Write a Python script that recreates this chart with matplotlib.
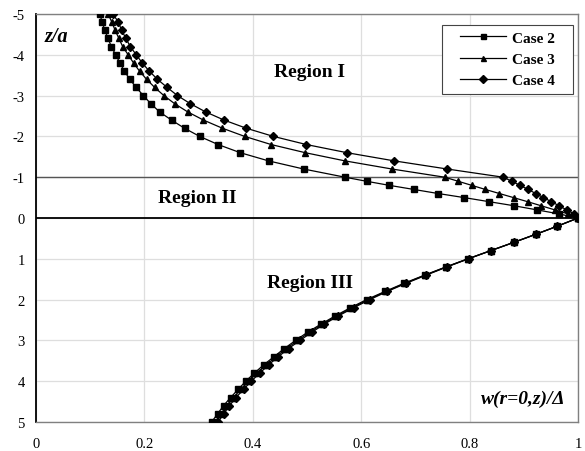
import matplotlib
matplotlib.use("Agg")
import matplotlib.pyplot as plt
from matplotlib.lines import Line2D
from matplotlib.legend_handler import HandlerLine2D

# ---- data ----
# Upper part (Region I and II), z < 0
z_up = [-5.0, -4.8, -4.6, -4.4, -4.2, -4.0, -3.8, -3.6, -3.4, -3.2, -3.0,
        -2.8, -2.6, -2.4, -2.2, -2.0, -1.8, -1.6, -1.4, -1.2, -1.0,
        -0.9, -0.8, -0.7, -0.6, -0.5, -0.4, -0.3, -0.2, -0.1, 0.0]
case2_up = [0.118, 0.122, 0.127, 0.133, 0.139, 0.147, 0.155, 0.163, 0.173, 0.185, 0.198,
            0.212, 0.228, 0.250, 0.274, 0.302, 0.336, 0.377, 0.429, 0.494, 0.570,
            0.610, 0.652, 0.697, 0.742, 0.790, 0.836, 0.882, 0.924, 0.965, 1.000]
case3_up = [0.133, 0.140, 0.146, 0.153, 0.160, 0.170, 0.180, 0.191, 0.204, 0.219, 0.236,
            0.256, 0.280, 0.309, 0.344, 0.385, 0.434, 0.497, 0.570, 0.657, 0.754,
            0.779, 0.804, 0.829, 0.855, 0.881, 0.907, 0.932, 0.957, 0.982, 1.000]
case4_up = [0.142, 0.152, 0.158, 0.166, 0.174, 0.185, 0.196, 0.209, 0.224, 0.242, 0.261,
            0.285, 0.313, 0.347, 0.388, 0.438, 0.499, 0.574, 0.661, 0.759, 0.862,
            0.878, 0.893, 0.908, 0.922, 0.936, 0.951, 0.965, 0.979, 0.993, 1.000]

# Lower part (Region III), z > 0
z_low = [0.0, 0.2, 0.4, 0.6, 0.8, 1.0, 1.2, 1.4, 1.6, 1.8, 2.0, 2.2, 2.4,
         2.6, 2.8, 3.0, 3.2, 3.4, 3.6, 3.8, 4.0, 4.2, 4.4, 4.6, 4.8, 5.0]
case2_low = [1.000, 0.962, 0.922, 0.881, 0.839, 0.797, 0.756, 0.717, 0.679, 0.644, 0.610,
             0.580, 0.552, 0.526, 0.501, 0.479, 0.458, 0.439, 0.420, 0.403, 0.387,
             0.373, 0.359, 0.346, 0.335, 0.324]
case3_low = [1.000, 0.962, 0.922, 0.881, 0.839, 0.797, 0.757, 0.718, 0.681, 0.646, 0.613,
             0.583, 0.555, 0.529, 0.505, 0.483, 0.462, 0.443, 0.425, 0.408, 0.392,
             0.378, 0.364, 0.352, 0.341, 0.330]
case4_low = [1.000, 0.962, 0.922, 0.881, 0.839, 0.798, 0.758, 0.720, 0.683, 0.648, 0.616,
             0.586, 0.558, 0.532, 0.509, 0.487, 0.466, 0.447, 0.429, 0.413, 0.397,
             0.383, 0.369, 0.357, 0.346, 0.336]

labels = ["Case 2", "Case 3", "Case 4"]
markers = ["s", "^", "D"]
msizes = [4.6, 5.0, 4.0]
x_ticks = [0, 0.2, 0.4, 0.6, 0.8, 1.0]
x_ticklabels = ["0", "0.2", "0.4", "0.6", "0.8", "1"]
y_ticks = [-5, -4, -3, -2, -1, 0, 1, 2, 3, 4, 5]
y_ticklabels = ["-5", "-4", "-3", "-2", "-1", "0", "1", "2", "3", "4", "5"]

plt.rcParams['font.family'] = ['Liberation Serif', 'DejaVu Serif']

fig = plt.figure(figsize=(5.85, 4.52), dpi=100)
ax = fig.add_axes([36/585, 1-423/452, (578-36)/585, (423-15)/452])

ups = [case2_up, case3_up, case4_up]
lows = [case2_low, case3_low, case4_low]
handles = []
for i in range(3):
    h, = ax.plot(ups[i], z_up, color='black', lw=0.9, marker=markers[i], ms=msizes[i],
                 mfc='black', mec='black', zorder=3)
    ax.plot(lows[i], z_low, color='black', lw=0.9, marker=markers[i], ms=msizes[i],
            mfc='black', mec='black', zorder=3)
    handles.append(h)

ax.set_xlim(0, 1)
ax.set_ylim(5, -5)
ax.set_xticks(x_ticks)
ax.set_xticklabels(x_ticklabels)
ax.set_yticks(y_ticks)
ax.set_yticklabels(y_ticklabels)
ax.tick_params(length=0, labelsize=10.5, pad=8)
ax.tick_params(axis='x', pad=11)
ax.grid(True, color='#dedede', lw=0.9)
ax.set_axisbelow(True)

ax.axhline(-1, color='#555555', lw=1.0, zorder=2)
ax.axhline(0, color='black', lw=1.3, zorder=2)

for s in ['top', 'right', 'bottom']:
    ax.spines[s].set_color('#808080')
    ax.spines[s].set_linewidth(1.0)
ax.spines['left'].set_color('black')
ax.spines['left'].set_linewidth(1.3)

ax.text(0.016, -4.45, "z/a", fontsize=14.5, fontweight='bold', style='italic',
        ha='left', va='center')
ax.text(0.505, -3.6, "Region I", fontsize=14, fontweight='bold', ha='center', va='center')
ax.text(0.298, -0.5, "Region II", fontsize=14, fontweight='bold', ha='center', va='center')
ax.text(0.505, 1.57, "Region III", fontsize=14, fontweight='bold', ha='center', va='center')
ax.text(0.978, 4.41, "w(r=0,z)/Δ", fontsize=14, fontweight='bold', style='italic',
        ha='right', va='center')

leg = ax.legend(handles, [l + "   " for l in labels],
                loc='upper right', bbox_to_anchor=(0.9905, 0.973), frameon=True,
                fancybox=False, edgecolor='#444444', framealpha=1,
                prop={'weight': 'bold', 'size': 11}, handlelength=3.8,
                borderpad=0.4, labelspacing=0.5, handletextpad=0.4, borderaxespad=0,
                handler_map={Line2D: HandlerLine2D(xpad=0.75)})
leg.get_frame().set_linewidth(0.8)
for h in leg.legend_handles:
    h.set_markersize(3.6)

fig.savefig("out.png", dpi=100)
